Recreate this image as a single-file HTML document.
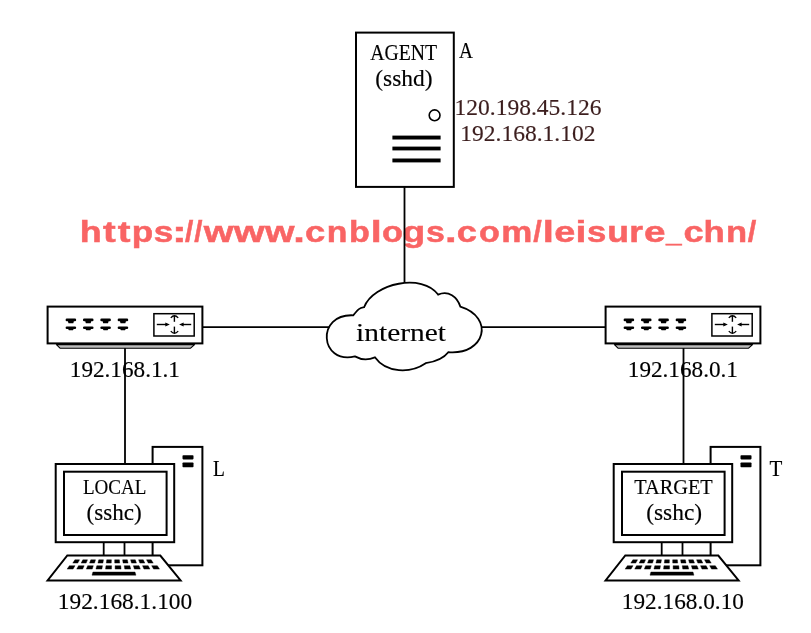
<!DOCTYPE html>
<html><head><meta charset="utf-8"><style>
html,body{margin:0;padding:0;background:#fff;width:811px;height:633px;overflow:hidden}
svg{display:block;will-change:transform}
</style></head><body>
<svg width="811" height="633" viewBox="0 0 811 633">
<rect width="811" height="633" fill="#fff"/>
<g font-family='"Liberation Sans", sans-serif' font-weight="bold" font-size="100" fill="#f96464" stroke="#f96464" stroke-width="1.66"><text transform="matrix(0.35908 0 0 0.30154 79.743 242.200)">h</text><text transform="matrix(0.38238 0 0 0.30154 102.983 242.200)">t</text><text transform="matrix(0.38238 0 0 0.30154 117.783 242.200)">t</text><text transform="matrix(0.35126 0 0 0.30154 131.735 242.200)">p</text><text transform="matrix(0.35210 0 0 0.30154 153.812 242.200)">s</text><text transform="matrix(0.44089 0 0 0.30154 171.909 242.200)">:</text><text transform="matrix(0.29810 0 0 0.30154 185.059 242.200)">/</text><text transform="matrix(0.29423 0 0 0.30154 194.363 242.200)">/</text><text transform="matrix(0.38328 0 0 0.30154 203.862 242.200)">w</text><text transform="matrix(0.39733 0 0 0.30154 233.866 242.200)">w</text><text transform="matrix(0.37945 0 0 0.30154 264.961 242.200)">w</text><text transform="matrix(0.41810 0 0 0.30154 293.212 242.200)">.</text><text transform="matrix(0.36491 0 0 0.30154 304.925 242.200)">c</text><text transform="matrix(0.33754 0 0 0.30154 326.825 242.200)">n</text><text transform="matrix(0.34133 0 0 0.30154 349.000 242.200)">b</text><text transform="matrix(0.39357 0 0 0.30154 370.702 242.200)">l</text><text transform="matrix(0.34352 0 0 0.30154 381.908 242.200)">o</text><text transform="matrix(0.37182 0 0 0.30154 402.525 242.200)">g</text><text transform="matrix(0.33960 0 0 0.30154 425.956 242.200)">s</text><text transform="matrix(0.41810 0 0 0.30154 445.012 242.200)">.</text><text transform="matrix(0.36286 0 0 0.30154 456.833 242.200)">c</text><text transform="matrix(0.34165 0 0 0.30154 479.115 242.200)">o</text><text transform="matrix(0.34943 0 0 0.30154 501.247 242.200)">m</text><text transform="matrix(0.30584 0 0 0.30154 533.351 242.200)">/</text><text transform="matrix(0.40085 0 0 0.30154 542.651 242.200)">l</text><text transform="matrix(0.37895 0 0 0.30154 554.170 242.200)">e</text><text transform="matrix(0.39357 0 0 0.30154 575.602 242.200)">i</text><text transform="matrix(0.34793 0 0 0.30154 587.027 242.200)">s</text><text transform="matrix(0.35617 0 0 0.30154 607.241 242.200)">u</text><text transform="matrix(0.35377 0 0 0.30154 629.218 242.200)">r</text><text transform="matrix(0.38724 0 0 0.30154 643.937 242.200)">e</text><text transform="matrix(0.28188 0 0 0.30154 665.925 242.200)">_</text><text transform="matrix(0.36286 0 0 0.30154 683.433 242.200)">c</text><text transform="matrix(0.34864 0 0 0.30154 703.616 242.200)">h</text><text transform="matrix(0.34582 0 0 0.30154 725.970 242.200)">n</text><text transform="matrix(0.30584 0 0 0.30154 747.651 242.200)">/</text></g>
<path d="M404.5 187 V284.5 M202.4 327.2 H330 M480 327.2 H605.6 M125 348 V464 M683.5 348 V464" stroke="#000" stroke-width="1.8" fill="none"/>
<rect x="356" y="32.6" width="97.8" height="154.3" fill="#fff" stroke="#000" stroke-width="2"/>
<circle cx="434.6" cy="115.3" r="5.4" fill="none" stroke="#000" stroke-width="1.6"/>
<rect x="392.4" y="135.6" width="48.2" height="3.9" fill="#000"/>
<rect x="392.4" y="146.6" width="48.2" height="3.8" fill="#000"/>
<rect x="392.4" y="158.5" width="48.2" height="3.9" fill="#000"/>
<path d="M353.20 315.30 C358.98 308.38 358.98 308.38 364.10 307.20 C373.44 283.01 422.65 273.03 438.10 294.60 C448.28 289.96 457.35 296.79 460.30 306.60 C494.83 317.38 485.36 355.27 448.30 352.20 C442.90 359.21 434.00 361.88 425.70 363.20 C410.58 373.58 386.23 373.33 374.90 357.30 C368.57 360.04 361.07 359.88 354.90 356.40 C319.66 364.57 315.75 313.55 353.20 315.30 Z" fill="#fff" stroke="#000" stroke-width="1.8" stroke-linejoin="miter"/>
<g transform="translate(0 0)">
<path d="M56.4 344.6 L194.6 344.6 L190.6 348.2 L60 348.2 Z" fill="#bdbdbd" stroke="#000" stroke-width="1.1" stroke-linejoin="round"/>
<rect x="47.6" y="306.6" width="154.8" height="36.8" fill="#fff" stroke="#000" stroke-width="2"/>
<path d="M66.90 318.6 H74.90 A1.3 1.3 0 0 1 74.90 321.2 H73.90 L73.30 323.2 H68.50 L67.90 321.2 H66.90 A1.3 1.3 0 0 1 66.90 318.6 Z" fill="#000"/>
<path d="M66.90 326.4 H74.90 A1.3 1.3 0 0 1 74.90 329 H73.70 L72.90 330.3 H68.90 L68.10 329 H66.90 A1.3 1.3 0 0 1 66.90 326.4 Z" fill="#000"/>
<path d="M84.25 318.6 H92.25 A1.3 1.3 0 0 1 92.25 321.2 H91.25 L90.65 323.2 H85.85 L85.25 321.2 H84.25 A1.3 1.3 0 0 1 84.25 318.6 Z" fill="#000"/>
<path d="M84.25 326.4 H92.25 A1.3 1.3 0 0 1 92.25 329 H91.05 L90.25 330.3 H86.25 L85.45 329 H84.25 A1.3 1.3 0 0 1 84.25 326.4 Z" fill="#000"/>
<path d="M101.60 318.6 H109.60 A1.3 1.3 0 0 1 109.60 321.2 H108.60 L108.00 323.2 H103.20 L102.60 321.2 H101.60 A1.3 1.3 0 0 1 101.60 318.6 Z" fill="#000"/>
<path d="M101.60 326.4 H109.60 A1.3 1.3 0 0 1 109.60 329 H108.40 L107.60 330.3 H103.60 L102.80 329 H101.60 A1.3 1.3 0 0 1 101.60 326.4 Z" fill="#000"/>
<path d="M118.95 318.6 H126.95 A1.3 1.3 0 0 1 126.95 321.2 H125.95 L125.35 323.2 H120.55 L119.95 321.2 H118.95 A1.3 1.3 0 0 1 118.95 318.6 Z" fill="#000"/>
<path d="M118.95 326.4 H126.95 A1.3 1.3 0 0 1 126.95 329 H125.75 L124.95 330.3 H120.95 L120.15 329 H118.95 A1.3 1.3 0 0 1 118.95 326.4 Z" fill="#000"/>
<rect x="153.9" y="313.7" width="40.3" height="22.3" fill="#fff" stroke="#000" stroke-width="1.5"/>
<path d="M156.8 324.5 H166" stroke="#000" stroke-width="1.4"/>
<path d="M165.3 322.4 L169.8 324.5 L165.3 326.6 Z" fill="#000"/>
<path d="M183 324.5 H191.2" stroke="#000" stroke-width="1.4"/>
<path d="M183.6 322.4 L179.1 324.5 L183.6 326.6 Z" fill="#000"/>
<path d="M174.4 321.8 V315.6" stroke="#000" stroke-width="1.4"/>
<path d="M170.8 317.9 Q174.4 313.6 178.2 317.9" fill="none" stroke="#000" stroke-width="1.3"/>
<path d="M174.4 326.6 V333.2" stroke="#000" stroke-width="1.4"/>
<path d="M170.8 331.1 Q174.4 335.4 178.2 331.1" fill="none" stroke="#000" stroke-width="1.3"/>
</g>
<g transform="translate(558 0)">
<path d="M56.4 344.6 L194.6 344.6 L190.6 348.2 L60 348.2 Z" fill="#bdbdbd" stroke="#000" stroke-width="1.1" stroke-linejoin="round"/>
<rect x="47.6" y="306.6" width="154.8" height="36.8" fill="#fff" stroke="#000" stroke-width="2"/>
<path d="M66.90 318.6 H74.90 A1.3 1.3 0 0 1 74.90 321.2 H73.90 L73.30 323.2 H68.50 L67.90 321.2 H66.90 A1.3 1.3 0 0 1 66.90 318.6 Z" fill="#000"/>
<path d="M66.90 326.4 H74.90 A1.3 1.3 0 0 1 74.90 329 H73.70 L72.90 330.3 H68.90 L68.10 329 H66.90 A1.3 1.3 0 0 1 66.90 326.4 Z" fill="#000"/>
<path d="M84.25 318.6 H92.25 A1.3 1.3 0 0 1 92.25 321.2 H91.25 L90.65 323.2 H85.85 L85.25 321.2 H84.25 A1.3 1.3 0 0 1 84.25 318.6 Z" fill="#000"/>
<path d="M84.25 326.4 H92.25 A1.3 1.3 0 0 1 92.25 329 H91.05 L90.25 330.3 H86.25 L85.45 329 H84.25 A1.3 1.3 0 0 1 84.25 326.4 Z" fill="#000"/>
<path d="M101.60 318.6 H109.60 A1.3 1.3 0 0 1 109.60 321.2 H108.60 L108.00 323.2 H103.20 L102.60 321.2 H101.60 A1.3 1.3 0 0 1 101.60 318.6 Z" fill="#000"/>
<path d="M101.60 326.4 H109.60 A1.3 1.3 0 0 1 109.60 329 H108.40 L107.60 330.3 H103.60 L102.80 329 H101.60 A1.3 1.3 0 0 1 101.60 326.4 Z" fill="#000"/>
<path d="M118.95 318.6 H126.95 A1.3 1.3 0 0 1 126.95 321.2 H125.95 L125.35 323.2 H120.55 L119.95 321.2 H118.95 A1.3 1.3 0 0 1 118.95 318.6 Z" fill="#000"/>
<path d="M118.95 326.4 H126.95 A1.3 1.3 0 0 1 126.95 329 H125.75 L124.95 330.3 H120.95 L120.15 329 H118.95 A1.3 1.3 0 0 1 118.95 326.4 Z" fill="#000"/>
<rect x="153.9" y="313.7" width="40.3" height="22.3" fill="#fff" stroke="#000" stroke-width="1.5"/>
<path d="M156.8 324.5 H166" stroke="#000" stroke-width="1.4"/>
<path d="M165.3 322.4 L169.8 324.5 L165.3 326.6 Z" fill="#000"/>
<path d="M183 324.5 H191.2" stroke="#000" stroke-width="1.4"/>
<path d="M183.6 322.4 L179.1 324.5 L183.6 326.6 Z" fill="#000"/>
<path d="M174.4 321.8 V315.6" stroke="#000" stroke-width="1.4"/>
<path d="M170.8 317.9 Q174.4 313.6 178.2 317.9" fill="none" stroke="#000" stroke-width="1.3"/>
<path d="M174.4 326.6 V333.2" stroke="#000" stroke-width="1.4"/>
<path d="M170.8 331.1 Q174.4 335.4 178.2 331.1" fill="none" stroke="#000" stroke-width="1.3"/>
</g>
<g transform="translate(0 0)">
<rect x="152.6" y="446.9" width="49.8" height="118.4" fill="#fff" stroke="#000" stroke-width="2"/>
<rect x="182.5" y="455.3" width="11" height="4.1" rx="0.8" fill="#000"/>
<rect x="182.5" y="462.4" width="11" height="4.9" rx="0.8" fill="#000"/>
<path d="M103.7 542 V556 M124.5 542 V556" stroke="#000" stroke-width="1.8"/>
<rect x="55.7" y="464" width="118.5" height="78.2" fill="#fff" stroke="#000" stroke-width="2"/>
<rect x="64" y="471.7" width="102.6" height="63.3" fill="#fff" stroke="#000" stroke-width="2"/>
<path d="M67.3 555.5 L160.3 555.5 L180.6 580.4 L47.6 580.4 Z" fill="#fff" stroke="#000" stroke-width="2" stroke-linejoin="miter"/>
<path d="M74.86 559.8 L79.57 559.8 L77.75 563.1 L72.79 563.1 Z M82.82 559.8 L87.53 559.8 L86.13 563.1 L81.17 563.1 Z M90.79 559.8 L95.50 559.8 L94.52 563.1 L89.56 563.1 Z M98.75 559.8 L103.46 559.8 L102.90 563.1 L97.94 563.1 Z M106.71 559.8 L111.42 559.8 L111.29 563.1 L106.33 563.1 Z M114.67 559.8 L119.38 559.8 L119.68 563.1 L114.72 563.1 Z M122.64 559.8 L127.35 559.8 L128.06 563.1 L123.10 563.1 Z M130.60 559.8 L135.31 559.8 L136.45 563.1 L131.49 563.1 Z M138.56 559.8 L143.27 559.8 L144.83 563.1 L139.87 563.1 Z M146.52 559.8 L151.24 559.8 L153.22 563.1 L148.26 563.1 Z M69.37 565.7 L75.02 565.7 L73.08 569.1 L67.14 569.1 Z M78.51 565.7 L84.17 565.7 L82.68 569.1 L76.74 569.1 Z M87.66 565.7 L93.31 565.7 L92.28 569.1 L86.35 569.1 Z M96.81 565.7 L102.46 565.7 L101.89 569.1 L95.95 569.1 Z M105.95 565.7 L111.60 565.7 L111.49 569.1 L105.55 569.1 Z M115.10 565.7 L120.75 565.7 L121.09 569.1 L115.16 569.1 Z M124.24 565.7 L129.90 565.7 L130.70 569.1 L124.76 569.1 Z M133.39 565.7 L139.04 565.7 L140.30 569.1 L134.36 569.1 Z M142.54 565.7 L148.19 565.7 L149.90 569.1 L143.97 569.1 Z M151.68 565.7 L157.33 565.7 L159.51 569.1 L153.57 569.1 Z M92.91 572.0 L135.01 572.0 L135.91 575.2 L92.01 575.2 Z" fill="#000" stroke="#000" stroke-width="0.4" stroke-linejoin="round"/>
</g>
<g transform="translate(558 0)">
<rect x="152.6" y="446.9" width="49.8" height="118.4" fill="#fff" stroke="#000" stroke-width="2"/>
<rect x="182.5" y="455.3" width="11" height="4.1" rx="0.8" fill="#000"/>
<rect x="182.5" y="462.4" width="11" height="4.9" rx="0.8" fill="#000"/>
<path d="M103.7 542 V556 M124.5 542 V556" stroke="#000" stroke-width="1.8"/>
<rect x="55.7" y="464" width="118.5" height="78.2" fill="#fff" stroke="#000" stroke-width="2"/>
<rect x="64" y="471.7" width="102.6" height="63.3" fill="#fff" stroke="#000" stroke-width="2"/>
<path d="M67.3 555.5 L160.3 555.5 L180.6 580.4 L47.6 580.4 Z" fill="#fff" stroke="#000" stroke-width="2" stroke-linejoin="miter"/>
<path d="M74.86 559.8 L79.57 559.8 L77.75 563.1 L72.79 563.1 Z M82.82 559.8 L87.53 559.8 L86.13 563.1 L81.17 563.1 Z M90.79 559.8 L95.50 559.8 L94.52 563.1 L89.56 563.1 Z M98.75 559.8 L103.46 559.8 L102.90 563.1 L97.94 563.1 Z M106.71 559.8 L111.42 559.8 L111.29 563.1 L106.33 563.1 Z M114.67 559.8 L119.38 559.8 L119.68 563.1 L114.72 563.1 Z M122.64 559.8 L127.35 559.8 L128.06 563.1 L123.10 563.1 Z M130.60 559.8 L135.31 559.8 L136.45 563.1 L131.49 563.1 Z M138.56 559.8 L143.27 559.8 L144.83 563.1 L139.87 563.1 Z M146.52 559.8 L151.24 559.8 L153.22 563.1 L148.26 563.1 Z M69.37 565.7 L75.02 565.7 L73.08 569.1 L67.14 569.1 Z M78.51 565.7 L84.17 565.7 L82.68 569.1 L76.74 569.1 Z M87.66 565.7 L93.31 565.7 L92.28 569.1 L86.35 569.1 Z M96.81 565.7 L102.46 565.7 L101.89 569.1 L95.95 569.1 Z M105.95 565.7 L111.60 565.7 L111.49 569.1 L105.55 569.1 Z M115.10 565.7 L120.75 565.7 L121.09 569.1 L115.16 569.1 Z M124.24 565.7 L129.90 565.7 L130.70 569.1 L124.76 569.1 Z M133.39 565.7 L139.04 565.7 L140.30 569.1 L134.36 569.1 Z M142.54 565.7 L148.19 565.7 L149.90 569.1 L143.97 569.1 Z M151.68 565.7 L157.33 565.7 L159.51 569.1 L153.57 569.1 Z M92.91 572.0 L135.01 572.0 L135.91 575.2 L92.01 575.2 Z" fill="#000" stroke="#000" stroke-width="0.4" stroke-linejoin="round"/>
</g>
<text transform="matrix(0.19762 0 0 0.22500 370.202 59.550)" font-family='"Liberation Serif", serif' font-weight="normal" font-size="100" fill="#000" stroke="#000" stroke-width="0.71">AGENT</text>
<text transform="matrix(0.23475 0 0 0.23333 375.261 86.000)" font-family='"Liberation Serif", serif' font-weight="normal" font-size="100" fill="#000" stroke="#000" stroke-width="0.64">(sshd)</text>
<text transform="matrix(0.19286 0 0 0.22769 459.007 58.028)" font-family='"Liberation Serif", serif' font-weight="normal" font-size="100" fill="#000" stroke="#000" stroke-width="0.71">A</text>
<text transform="matrix(0.23507 0 0 0.22059 454.584 115.459)" font-family='"Liberation Serif", serif' font-weight="normal" font-size="100" fill="#3c1e1e" stroke="#3c1e1e" stroke-width="0.66">120.198.45.126</text>
<text transform="matrix(0.23518 0 0 0.22500 460.283 141.450)" font-family='"Liberation Serif", serif' font-weight="normal" font-size="100" fill="#3c1e1e" stroke="#3c1e1e" stroke-width="0.65">192.168.1.102</text>
<text transform="matrix(0.29472 0 0 0.25758 356.111 340.642)" font-family='"Liberation Serif", serif' font-weight="normal" font-size="100" fill="#000" stroke="#000" stroke-width="0.54">internet</text>
<text transform="matrix(0.23196 0 0 0.22206 69.812 376.556)" font-family='"Liberation Serif", serif' font-weight="normal" font-size="100" fill="#000" stroke="#000" stroke-width="0.66">192.168.1.1</text>
<text transform="matrix(0.23196 0 0 0.22206 627.812 376.556)" font-family='"Liberation Serif", serif' font-weight="normal" font-size="100" fill="#000" stroke="#000" stroke-width="0.66">192.168.0.1</text>
<text transform="matrix(0.19074 0 0 0.21324 82.928 493.574)" font-family='"Liberation Serif", serif' font-weight="normal" font-size="100" fill="#000" stroke="#000" stroke-width="0.74">LOCAL</text>
<text transform="matrix(0.23130 0 0 0.23111 86.475 519.847)" font-family='"Liberation Serif", serif' font-weight="normal" font-size="100" fill="#000" stroke="#000" stroke-width="0.65">(sshc)</text>
<text transform="matrix(0.19423 0 0 0.22769 212.917 475.700)" font-family='"Liberation Serif", serif' font-weight="normal" font-size="100" fill="#000" stroke="#000" stroke-width="0.71">L</text>
<text transform="matrix(0.23381 0 0 0.22206 57.796 608.556)" font-family='"Liberation Serif", serif' font-weight="normal" font-size="100" fill="#000" stroke="#000" stroke-width="0.66">192.168.1.100</text>
<text transform="matrix(0.20313 0 0 0.21324 634.294 493.574)" font-family='"Liberation Serif", serif' font-weight="normal" font-size="100" fill="#000" stroke="#000" stroke-width="0.72">TARGET</text>
<text transform="matrix(0.23435 0 0 0.23111 646.163 519.847)" font-family='"Liberation Serif", serif' font-weight="normal" font-size="100" fill="#000" stroke="#000" stroke-width="0.64">(sshc)</text>
<text transform="matrix(0.21053 0 0 0.23385 769.479 475.900)" font-family='"Liberation Serif", serif' font-weight="normal" font-size="100" fill="#000" stroke="#000" stroke-width="0.68">T</text>
<text transform="matrix(0.23262 0 0 0.22206 621.806 608.556)" font-family='"Liberation Serif", serif' font-weight="normal" font-size="100" fill="#000" stroke="#000" stroke-width="0.66">192.168.0.10</text>
</svg>
</body></html>
